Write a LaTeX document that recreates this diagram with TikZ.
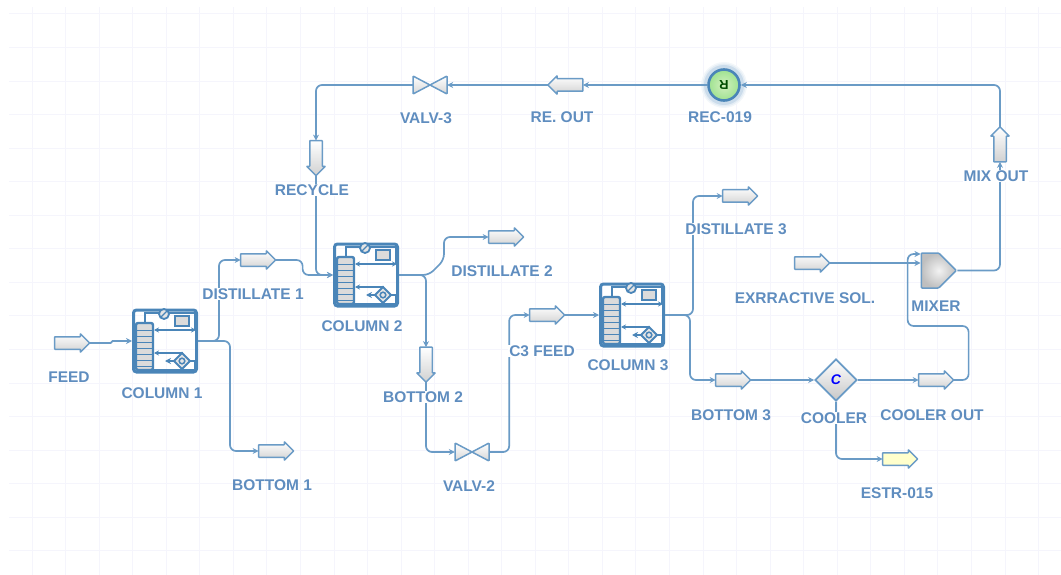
\documentclass[tikz,border=0pt]{standalone}
\usepackage{fontspec}
\setmainfont{Liberation Sans}
\usetikzlibrary{shapes.arrows,shapes.geometric,shapes.symbols,arrows.meta}
\definecolor{flowblue}{HTML}{6A9BC6}
\definecolor{iconblue}{HTML}{4A85B8}
\definecolor{labelblue}{HTML}{5F8DBF}
\definecolor{gridline}{HTML}{F5F5FC}
\definecolor{recinner}{HTML}{D2F0BE}
\definecolor{recouter}{HTML}{9FE291}
\tikzset{
    column/.pic={
        \node[draw=iconblue, line width=3pt, rounded corners=3pt, minimum width=63pt, minimum height=62pt, inner sep=0pt] (-box) at (0,0) {};
        \begin{scope}[iconblue, line width=1.8pt]
            \draw (-20,-18) -- (-20,-28) -- (-4,-28);
            \draw (3,-28) -- (30,-28) -- (30,-11);
            \draw[{Stealth[length=5pt,width=5pt]}-{Stealth[length=5pt,width=5pt]}] (-11,-11) -- (31,-11);
            \draw[-{Stealth[length=5pt,width=5pt]}] (17,13) -- (17,12) -- (-11,12);
            \draw (24,20) -- (30,20) -- (30,29);
            \draw[-{Stealth[length=6pt,width=6pt]}] (10,20) -- (0,20);
            \draw (-20,29) -- (31,29);
        \end{scope}
        \draw[iconblue, fill=black!10, line width=1.8pt] (-1,-27) circle (5);
        \draw[iconblue, line width=1.3pt] (-4,-24) -- (2,-30);
        \draw[iconblue, fill=black!14, line width=1.8pt] (10,-25) rectangle (24,-15);
        \draw[iconblue, fill=black!10, line width=1.8pt] (17,12) -- (25,20) -- (17,28) -- (9,20) -- cycle;
        \draw[iconblue, line width=1.5pt] (17,20) circle (2.8);
        \draw[iconblue, fill=black!14, line width=2.4pt, rounded corners=2pt] (-29,-18) rectangle (-12,29);
        \foreach \py in {-12,-6,0,6,12,18,24}
            \draw[iconblue, line width=1.8pt] (-29,\py+1.5) -- (-12,\py+1.5);
    },
    valve/.pic={
        \node[minimum width=34pt, minimum height=18pt, inner sep=0pt] (-body) at (0,0) {};
        \draw[flowblue, line width=1.5pt, rounded corners=0.8pt, top color=white, bottom color=black!16] (-17,-9) -- (17,9) -- (17,-9) -- (-17,9) -- cycle;
    }
}
\begin{document}
\begin{tikzpicture}[
        x=1pt, y=-1pt,
        font=\fontsize{15.5}{17}\selectfont\bfseries,
        lbl/.style={text=labelblue, inner sep=1pt},
        lblfill/.style={lbl, fill=white},
        stream/.style={single arrow, draw=flowblue, line width=1.5pt, rounded corners=0.5pt, outer sep=0pt, minimum width=17pt, minimum height=35pt, single arrow head extend=3pt, inner sep=5.5pt, top color=white, bottom color=black!18},
        product/.style={stream, top color=yellow!20, bottom color=yellow!20},
        flow/.style={draw=flowblue, line width=1.7pt, rounded corners=6pt, -{Stealth[length=6pt,width=6pt]}}
    ]
    \useasboundingbox (0,0) rectangle (1061,575);

    % Grid
    \foreach \gx in {1,...,31}
        \draw[gridline, line width=1pt] (\gx*33.55-1.5,7) -- (\gx*33.55-1.5,575);
    \foreach \gy in {0,...,16}
        \draw[gridline, line width=1pt] (9,14+\gy*33.55) -- (1061,14+\gy*33.55);

    % Columns
    \pic (col1) at (165,341) {column};
    \pic (col2) at (366,275) {column};
    \pic (col3) at (632,315) {column};

    % Streams
    \node[stream] (feed) at (69,343) {};
    \node[stream] (dist1) at (255,260) {};
    \node[stream] (bot1) at (273,451) {};
    \node[stream] (dist2) at (503,237) {};
    \node[stream, shape border rotate=270] (bot2) at (426,361.5) {};
    \node[stream] (c3feed) at (544,315) {};
    \node[stream] (dist3) at (737,196) {};
    \node[stream] (bot3) at (730,380) {};
    \node[stream] (extract) at (809,263) {};
    \node[stream] (coolout) at (933,380) {};
    \node[product] (estr) at (897,459) {};
    \node[stream, shape border rotate=90] (mixout) at (1000,147.5) {};
    \node[stream, shape border rotate=180] (reout) at (568.5,85) {};
    \node[stream, shape border rotate=270] (recycle) at (316,155) {};

    % Equipment
    \pic (valv2) at (472,452) {valve};
    \pic (valv3) at (430,85) {valve};
    \node[diamond, draw=flowblue, line width=1.7pt, inner sep=0pt, minimum size=42pt, top color=white, bottom color=black!22, text=blue, font=\fontsize{14}{16}\selectfont\bfseries\itshape] (cooler) at (836,380) {C};
    \node[signal, signal to=east, signal pointer angle=90, draw=flowblue, line width=1.5pt, rounded corners=1pt, inner sep=0pt, minimum width=35pt, minimum height=35pt, inner color=black!5, outer color=black!25] (mixer) at (930,270.5) {};
    \foreach \glowr/\glowc in {23/8,21.5/18,20/35}
        \fill[flowblue!\glowc] (724,85) circle (\glowr);
    \node[circle, draw=iconblue, line width=2.6pt, minimum size=31pt, inner sep=0pt, inner color=recinner, outer color=recouter] (rec) at (724,85) {\rotatebox{180}{\textcolor{green!30!black}{\fontsize{13}{13}\selectfont R}}};

    % Connectors
    \draw[flow, sharp corners] (feed.tip) -- ++(21,0) -- ++(2,-2) -- (col1-box.west);
    \draw[flow] (col1-box.east) -- ++(21,0) |- (dist1.tail);
    \draw[flow] (col1-box.east) -- ++(32,0) |- (bot1.tail);
    \draw[flow] (dist1.tip) -- ++(27,0) |- (col2-box.west);
    \draw[flow] (recycle.tip) |- (col2-box.west);
    \draw[flow] (col2-box.east) -- ++(30,0) -- ++(15,-15) |- (dist2.tail);
    \draw[flow] (col2-box.east) -| (bot2.tail);
    \draw[flow] (bot2.tip) |- (valv2-body.west);
    \draw[flow] (valv2-body.east) -- ++(20,0) |- (c3feed.tail);
    \draw[flow] (c3feed.tip) -- (col3-box.west);
    \draw[flow] (col3-box.east) -- ++(28,0) |- (dist3.tail);
    \draw[flow] (col3-box.east) -- ++(25,0) |- (bot3.tail);
    \draw[flow] (bot3.tip) -- (cooler.west);
    \draw[flow] (cooler.east) -- (coolout.tail);
    \draw[flow] (cooler.south) |- (estr.tail);
    \draw[flow] (coolout.tip) -- ++(15,0) |- ++(-61,-54) |- ([yshift=16.5pt]mixer.west);
    \draw[flow] (extract.tip) -- ([yshift=7.5pt]mixer.west);
    \draw[flow] (mixer.east) -| (mixout.tail);
    \draw[flow] (mixout.tip) |- (rec.east);
    \draw[flow] (rec.west) -- (reout.tail);
    \draw[flow] (reout.tip) -- (valv3-body.east);
    \draw[flow] (valv3-body.west) -| (recycle.tail);

    % Labels
    \node[lbl] (feedlbl) at (69,377) {FEED};
    \node[lbl] (col1lbl) at (162,393) {COLUMN 1};
    \node[lblfill] (dist1lbl) at (253,294) {DISTILLATE 1};
    \node[lbl] (bot1lbl) at (272,485) {BOTTOM 1};
    \node[lblfill] (recyclelbl) at (312,190) {RECYCLE};
    \node[lbl] (col2lbl) at (362,326) {COLUMN 2};
    \node[lbl] (dist2lbl) at (502,271) {DISTILLATE 2};
    \node[lblfill] (bot2lbl) at (423,397) {BOTTOM 2};
    \node[lbl] (valv2lbl) at (469,486) {VALV-2};
    \node[lblfill] (c3lbl) at (542,351) {C3 FEED};
    \node[lbl] (col3lbl) at (628,365) {COLUMN 3};
    \node[lblfill] (dist3lbl) at (736,229) {DISTILLATE 3};
    \node[lbl] (bot3lbl) at (731,415) {BOTTOM 3};
    \node[lbl] (extractlbl) at (805,298) {EXRRACTIVE SOL.};
    \node[lbl] (mixerlbl) at (936,306) {MIXER};
    \node[lblfill] (coolerlbl) at (834,418) {COOLER};
    \node[lbl] (cooloutlbl) at (932,415) {COOLER OUT};
    \node[lbl] (estrlbl) at (897,493) {ESTR-015};
    \node[lblfill] (mixoutlbl) at (996,176) {MIX OUT};
    \node[lbl] (reclbl) at (720,117) {REC-019};
    \node[lbl] (reoutlbl) at (562,117) {RE. OUT};
    \node[lbl] (valv3lbl) at (426,118) {VALV-3};
\end{tikzpicture}
\end{document}
